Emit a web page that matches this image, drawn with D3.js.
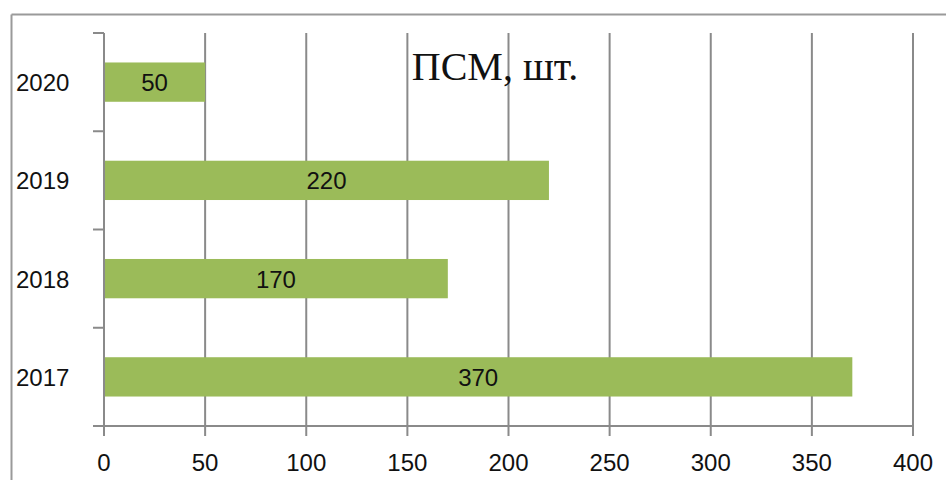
<!DOCTYPE html>
<html><head><meta charset="utf-8">
<script src="https://cdn.jsdelivr.net/npm/d3@7"></script>
<style>html,body{margin:0;padding:0;background:#fff;}svg{display:block;}</style>
</head><body>
<svg id="c" width="946" height="480"></svg>
<script>
const categories = ["2017", "2018", "2019", "2020"];
const values = [370, 170, 220, 50];
const xTicks = [0, 50, 100, 150, 200, 250, 300, 350, 400];
const title = "ПСМ, шт.";

const svg = d3.select("#c");
const W = 946, H = 480;
const pLeft = 104, pRight = 913, pTop = 33, pBottom = 426;

// outer chart border (top and left visible)
svg.append("line").attr("x1", 11.5).attr("x2", W).attr("y1", 14.5).attr("y2", 14.5)
  .attr("stroke", "#9a9a9a").attr("stroke-width", 2);
svg.append("line").attr("x1", 11.5).attr("x2", 11.5).attr("y1", 14.5).attr("y2", H)
  .attr("stroke", "#9a9a9a").attr("stroke-width", 2);

const x = d3.scaleLinear().domain([0, 400]).range([pLeft, pRight]);
const y = d3.scaleBand().domain(categories.slice().reverse()).range([pTop, pBottom]).padding(0);

const grid = "#8a8a8a";
// vertical gridlines
svg.append("g").selectAll("line").data(xTicks).join("line")
  .attr("x1", d => x(d)).attr("x2", d => x(d))
  .attr("y1", pTop).attr("y2", pBottom + 10)
  .attr("stroke", grid).attr("stroke-width", 2);

// x axis line
svg.append("line").attr("x1", pLeft - 11).attr("x2", pRight).attr("y1", pBottom).attr("y2", pBottom)
  .attr("stroke", grid).attr("stroke-width", 2);

// y axis ticks at band boundaries
const bounds = categories.map(c => y(c)).concat([pBottom]);
svg.append("g").selectAll("line").data(bounds).join("line")
  .attr("x1", pLeft - 11).attr("x2", pLeft).attr("y1", d => d).attr("y2", d => d)
  .attr("stroke", grid).attr("stroke-width", 2);

// x tick labels
svg.append("g").selectAll("text").data(xTicks).join("text")
  .attr("x", d => x(d)).attr("y", 471).attr("text-anchor", "middle")
  .attr("font-family", "Liberation Sans, Arial, sans-serif").attr("font-size", 24)
  .attr("fill", "#111").text(d => d);

// bars
const data = categories.map((c, i) => ({c, v: values[i]}));
const bh = y.bandwidth() * 0.4;
svg.append("g").selectAll("rect").data(data).join("rect")
  .attr("x", x(0) + 1).attr("width", d => x(d.v) - x(0) - 1)
  .attr("y", d => y(d.c) + y.bandwidth() / 2 - bh / 2).attr("height", bh)
  .attr("fill", "#9bbb59");

// bar value labels
svg.append("g").selectAll("text").data(data).join("text")
  .attr("x", d => (x(0) + x(d.v)) / 2).attr("y", d => y(d.c) + y.bandwidth() / 2 + 9)
  .attr("text-anchor", "middle")
  .attr("font-family", "Liberation Sans, Arial, sans-serif").attr("font-size", 24)
  .attr("fill", "#111").text(d => d.v);

// category labels
svg.append("g").selectAll("text").data(categories).join("text")
  .attr("x", 16).attr("y", d => y(d) + y.bandwidth() / 2 + 9)
  .attr("font-family", "Liberation Sans, Arial, sans-serif").attr("font-size", 24)
  .attr("fill", "#111").text(d => d);

// title
svg.append("text").attr("x", 495).attr("y", 80).attr("text-anchor", "middle")
  .attr("font-family", "Liberation Serif, Times New Roman, serif").attr("font-size", 40)
  .attr("fill", "#111").text(title);
</script>
</body></html>
